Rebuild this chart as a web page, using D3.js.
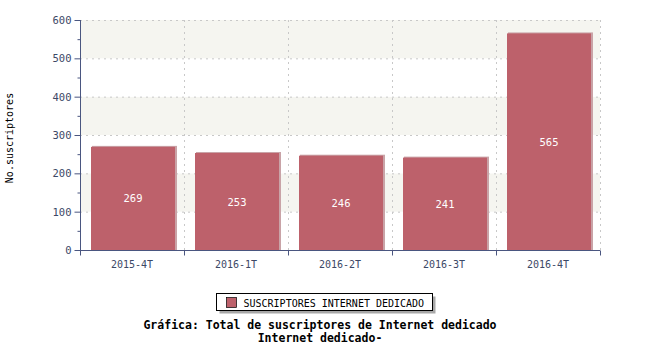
<!DOCTYPE html>
<html>
<head>
<meta charset="utf-8">
<script src="https://cdn.jsdelivr.net/npm/d3@7"></script>
<style>
  body { margin: 0; background: #fff; }
  text { font-family: "DejaVu Sans Mono", monospace; }
</style>
</head>
<body>
<div id="container"></div>
<script>
/* DATA */
const periods = ["2015-4T", "2016-1T", "2016-2T", "2016-3T", "2016-4T"];
const subscribers = [269, 253, 246, 241, 565];
const yTicks = [0, 100, 200, 300, 400, 500, 600];
const seriesName = "SUSCRIPTORES INTERNET DEDICADO";
const titleLines = ["Gráfica: Total de suscriptores de Internet dedicado", "Internet dedicado-"];
const yLabel = "No.suscriptores";

/* CONSTANTS */
const width = 650, height = 350,
  margin = { top: 20, bottom: 100, left: 80, right: 50 };
const axisColor = "#4a5680", textColor = "#3c4866", barColor = "#bd616b";

const svg = d3.select("#container")
  .append("svg")
  .attr("width", width)
  .attr("height", height);

/* SCALES */
const xScale = d3.scaleBand()
  .domain(periods)
  .range([margin.left, width - margin.right]);

const yScale = d3.scaleLinear()
  .domain([0, 600])
  .range([height - margin.bottom, margin.top]);

// alternating background stripes
const stripes = d3.range(0, 600, 100);
svg.selectAll(".stripe")
  .data(stripes)
  .join("rect")
  .attr("class", "stripe")
  .attr("x", margin.left)
  .attr("width", width - margin.right - margin.left)
  .attr("y", d => yScale(d + 100))
  .attr("height", d => yScale(d) - yScale(d + 100))
  .attr("fill", d => (d / 100) % 2 === 1 ? "#f5f5f0" : "#ffffff");

// grid
svg.selectAll(".hgrid")
  .data(yTicks.slice(1))
  .join("line")
  .attr("x1", margin.left)
  .attr("x2", width - margin.right)
  .attr("y1", d => yScale(d) + 0.5)
  .attr("y2", d => yScale(d) + 0.5)
  .attr("stroke", "#c8c8c8")
  .attr("stroke-dasharray", "2,4");

svg.selectAll(".vgrid")
  .data(periods)
  .join("line")
  .attr("x1", d => xScale(d) + xScale.bandwidth() + 0.5)
  .attr("x2", d => xScale(d) + xScale.bandwidth() + 0.5)
  .attr("y1", yScale(600))
  .attr("y2", yScale(0))
  .attr("stroke", "#c8c8c8")
  .attr("stroke-dasharray", "2,4");

/* BARS */
const barPad = 11, barW = 84;
const bars = svg.selectAll(".bar")
  .data(periods.map((p, i) => ({ period: p, value: subscribers[i] })))
  .join("g")
  .attr("class", "bar");

// light shadow edge
bars.append("rect")
  .attr("x", d => xScale(d.period) + barPad + 1)
  .attr("y", d => yScale(d.value) - 1)
  .attr("width", barW + 1)
  .attr("height", d => yScale(0) - yScale(d.value) + 1)
  .attr("fill", "#c9a3a7");

bars.append("rect")
  .attr("x", d => xScale(d.period) + barPad)
  .attr("y", d => yScale(d.value))
  .attr("width", barW)
  .attr("height", d => yScale(0) - yScale(d.value))
  .attr("fill", barColor);

bars.append("text")
  .attr("x", d => xScale(d.period) + barPad + barW / 2)
  .attr("y", d => (yScale(d.value) + yScale(0)) / 2 + 4)
  .attr("text-anchor", "middle")
  .attr("fill", "#ffffff")
  .style("font-size", "10.5px")
  .text(d => d.value);

/* AXES */
const xAxis = svg.append("g")
  .attr("transform", `translate(0, ${yScale(0) + 0.5})`);
xAxis.append("line")
  .attr("x1", margin.left).attr("x2", width - margin.right)
  .attr("stroke", axisColor);
xAxis.selectAll(".xt")
  .data([margin.left].concat(periods.map(p => xScale(p) + xScale.bandwidth())))
  .join("line")
  .attr("x1", d => d + 0.5).attr("x2", d => d + 0.5)
  .attr("y1", 0).attr("y2", 5)
  .attr("stroke", axisColor);
xAxis.selectAll(".xl")
  .data(periods)
  .join("text")
  .attr("x", d => xScale(d) + xScale.bandwidth() / 2)
  .attr("y", 17)
  .attr("text-anchor", "middle")
  .attr("fill", textColor)
  .style("font-size", "10px")
  .text(d => d);

const yAxis = d3.axisLeft(yScale)
  .tickValues(yTicks)
  .tickSize(6)
  .tickPadding(3);
const yG = svg.append("g")
  .attr("transform", `translate(${margin.left + 0.5}, 0)`)
  .call(yAxis);
yG.select(".domain").attr("stroke", axisColor).attr("d", `M0,${yScale(600)}V${yScale(0)}`);
yG.selectAll(".tick line").attr("stroke", axisColor);
yG.selectAll(".tick text")
  .attr("fill", textColor)
  .style("font-size", "10.5px")
  .style("font-family", "DejaVu Sans Mono, monospace");

// minor ticks
yG.selectAll(".minor")
  .data(d3.range(50, 600, 100))
  .join("line")
  .attr("x1", -3).attr("x2", 0)
  .attr("y1", d => yScale(d) + 0.5).attr("y2", d => yScale(d) + 0.5)
  .attr("stroke", axisColor);

svg.append("text")
  .attr("transform", `translate(13, ${(yScale(0) + yScale(600)) / 2 + 3}) rotate(-90)`)
  .attr("text-anchor", "middle")
  .attr("fill", "#000")
  .style("font-size", "10px")
  .text(yLabel);

/* LEGEND */
const lg = svg.append("g").attr("transform", "translate(216.5, 293.5)");
lg.append("rect").attr("x", 3).attr("y", 3).attr("width", 216).attr("height", 17).attr("fill", "#a8a8a8");
lg.append("rect").attr("width", 216).attr("height", 17).attr("fill", "#fff").attr("stroke", "#000");
lg.append("rect").attr("x", 10).attr("y", 4).attr("width", 10).attr("height", 10)
  .attr("fill", barColor).attr("stroke", "#000").attr("stroke-width", 0.7);
lg.append("text").attr("x", 27).attr("y", 13)
  .attr("fill", "#000")
  .style("font-size", "10px")
  .text(seriesName);

/* TITLE */
svg.selectAll(".title")
  .data(titleLines)
  .join("text")
  .attr("x", 320)
  .attr("y", (d, i) => 329 + i * 13)
  .attr("text-anchor", "middle")
  .attr("fill", "#000")
  .style("font-size", "11.5px")
  .style("font-weight", "bold")
  .text(d => d);
</script>
</body>
</html>
